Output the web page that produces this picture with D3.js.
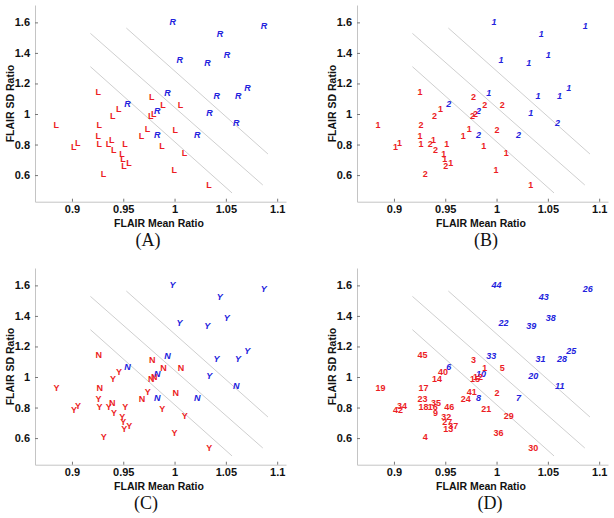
<!DOCTYPE html>
<html><head><meta charset="utf-8">
<script src="https://cdn.jsdelivr.net/npm/d3@7"></script>
<style>body{margin:0;background:#fff}</style>
</head><body><svg id="c" width="614" height="518"></svg>
<script>
// ---- data ----
const ids = [1,2,3,4,5,6,7,8,9,10,11,12,13,14,15,16,17,18,19,20,21,22,23,24,25,26,27,28,29,30,31,32,33,34,35,36,37,38,39,40,41,42,43,44,45,46];
const meanRatio = [0.986,0.998,0.975,0.928,1.003,0.951,1.019,0.980,0.938,0.980,1.057,0.977,0.948,0.937,0.974,0.933,0.924,0.924,0.882,1.031,0.985,1.002,0.923,0.965,1.068,1.084,0.947,1.059,1.007,1.031,1.038,0.946,0.990,0.903,0.936,0.997,0.953,1.048,1.029,0.943,0.971,0.899,1.041,0.995,0.923,0.949];
const sdRatio = [1.059,0.898,1.113,0.606,1.057,1.065,0.862,0.862,0.766,1.022,0.940,0.998,0.662,0.990,0.985,0.806,0.932,0.805,0.928,1.008,0.791,1.357,0.854,0.859,1.172,1.580,0.706,1.120,0.745,0.537,1.119,0.738,1.140,0.810,0.833,0.633,0.678,1.390,1.338,1.035,0.904,0.785,1.522,1.605,1.146,0.802];
const sideLabels = ["L","L","L","L","L","R","R","R","L","R","R","L","L","L","L","L","L","L","L","R","L","R","L","L","R","R","L","R","L","L","R","L","R","L","L","L","L","R","R","L","L","L","R","R","L","L"];
const groupLabels = ["2","2","2","2","2","2","2","2","2","2","2","2","2","2","2","2","2","1","1","1","1","1","1","1","1","1","1","1","1","1","1","1","1","1","1","1","1","1","1","1","1","1","1","1","1","1"];
const yesNoLabels = ["N","N","N","Y","N","N","N","N","Y","N","N","N","Y","Y","N","Y","N","Y","Y","Y","Y","Y","Y","N","Y","Y","Y","Y","Y","Y","Y","Y","N","Y","N","Y","Y","Y","Y","Y","Y","Y","Y","Y","N","Y"];
const xTicks = [0.9, 0.95, 1, 1.05, 1.1];
const yTicks = [0.6, 0.8, 1, 1.2, 1.4, 1.6];
const lineStartX = [0.918, 0.918, 0.953];
const lineStartY = [1.310, 1.528, 1.563];
const lineEndX = [1.056, 1.086, 1.091];
const lineEndY = [0.483, 0.535, 0.738];
const panelNames = ["(A)", "(B)", "(C)", "(D)"];
const xLabel = "FLAIR Mean Ratio";
const yLabel = "FLAIR SD Ratio";

// ---- layout ----
const panels = [
  {ox: 0,   oy: 0,   tx: 148, labels: sideLabels},
  {ox: 322, oy: 0,   tx: 164, labels: groupLabels},
  {ox: 0,   oy: 263, tx: 146, labels: yesNoLabels},
  {ox: 322, oy: 263, tx: 168, labels: ids.map(String)}
];
const RED = "#ec1c24", BLUE = "#2222dd";
const svg = d3.select("#c");
const x = d3.scaleLinear().domain([0.864, 1.1086]).range([35, 286]);
const y = d3.scaleLinear().domain([0.4257, 1.7138]).range([201.7, 5]);
const points = ids.map((id, i) => ({id, mx: meanRatio[i], sd: sdRatio[i], side: sideLabels[i]}));
const segs = lineStartX.map((v, i) => ({x1: v, y1: lineStartY[i], x2: lineEndX[i], y2: lineEndY[i]}));

panels.forEach((p, pi) => {
  const g = svg.append("g").attr("transform", `translate(${p.ox},${p.oy})`);
  // boundary lines
  g.selectAll("line.b").data(segs).join("line")
    .attr("x1", d => x(d.x1)).attr("y1", d => y(d.y1))
    .attr("x2", d => x(d.x2)).attr("y2", d => y(d.y2))
    .attr("stroke", "#cfcfcf").attr("stroke-width", 1);
  // axes
  const ax = g.append("g").attr("transform", `translate(0,${y.range()[0]})`)
    .call(d3.axisBottom(x).tickValues(xTicks).tickFormat(d => String(d)).tickSizeInner(-3).tickSizeOuter(0).tickPadding(4));
  const ay = g.append("g").attr("transform", `translate(${x.range()[0]},0)`)
    .call(d3.axisLeft(y).tickValues(yTicks).tickFormat(d => String(d)).tickSizeInner(-3).tickSizeOuter(0).tickPadding(5));
  [ax, ay].forEach(a => {
    a.select(".domain").attr("stroke", "#c4c4c4");
    a.selectAll(".tick line").attr("stroke", "#777");
    a.selectAll(".tick text").attr("fill", "#111").style("font", "bold 11px 'Liberation Sans', Arial, sans-serif");
  });
  // point labels
  g.selectAll("text.pt").data(points).join("text")
    .attr("x", d => x(d.mx)).attr("y", d => y(d.sd)).attr("dy", "0.35em")
    .attr("fill", d => d.side === "R" ? BLUE : RED)
    .style("font-style", d => d.side === "R" ? "italic" : "normal")
    .style("font-weight", "bold").style("font-size", "9px")
    .style("font-family", "'Liberation Sans', Arial, sans-serif")
    .text((d, i) => p.labels[i]);
  // axis titles
  g.append("text").attr("x", 159).attr("y", 226.5).attr("text-anchor", "middle")
    .style("font", "bold 10.5px 'Liberation Sans', Arial, sans-serif").attr("fill", "#111").text(xLabel);
  g.append("text").attr("transform", "translate(13.5,103.5) rotate(-90)").attr("text-anchor", "middle")
    .style("font", "bold 10.5px 'Liberation Sans', Arial, sans-serif").attr("fill", "#111").text(yLabel);
  // panel name
  g.append("text").attr("x", p.tx).attr("y", 246).attr("text-anchor", "middle")
    .style("font", "18px 'Liberation Serif', 'Times New Roman', serif").attr("fill", "#111").text(panelNames[pi]);
});
</script></body></html>
